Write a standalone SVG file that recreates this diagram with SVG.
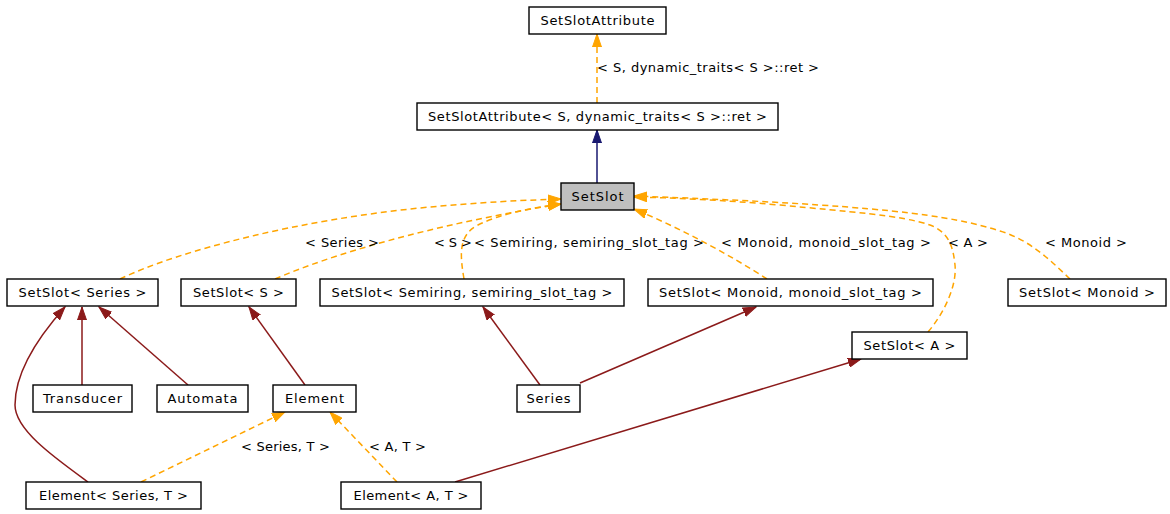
<svg xmlns="http://www.w3.org/2000/svg" width="1170" height="514" viewBox="0 0 1170 514">
<defs>
<marker id="ao" markerUnits="userSpaceOnUse" markerWidth="14" markerHeight="10" refX="13" refY="5" orient="auto"><path d="M0,0.5 L13,5 L0,9.5 z" fill="#ffa500" stroke="#ffa500" stroke-width="1"/></marker>
<marker id="ar" markerUnits="userSpaceOnUse" markerWidth="14" markerHeight="10" refX="13" refY="5" orient="auto"><path d="M0,0.5 L13,5 L0,9.5 z" fill="#8b1a1a" stroke="#8b1a1a" stroke-width="1"/></marker>
<marker id="an" markerUnits="userSpaceOnUse" markerWidth="14" markerHeight="10" refX="13" refY="5" orient="auto"><path d="M0,0.5 L13,5 L0,9.5 z" fill="#191970" stroke="#191970" stroke-width="1"/></marker>
</defs>
<style>
rect{fill:#fff;stroke:#000;stroke-width:1.4}
.cur rect{fill:#bfbfbf}
text{font-family:"DejaVu Sans","Liberation Sans",sans-serif;font-size:13px;fill:#000}
.n text{text-anchor:middle}
.o{fill:none;stroke:#ffa500;stroke-width:1.5;stroke-dasharray:6,4;marker-end:url(#ao)}
.r{fill:none;stroke:#8b1a1a;stroke-width:1.5;marker-end:url(#ar)}
.b{fill:none;stroke:#191970;stroke-width:1.5;marker-end:url(#an)}
</style>
<rect x="0" y="0" width="1170" height="514" style="fill:#fff;stroke:none"/>
<g id="connectors">
<path class="o" d="M597,103 L597,34"/>
<path class="b" d="M597,183 L597,130"/>
<path class="o" d="M120,279 C180,250 300,220 420,208 C480,202 530,200 561,199"/>
<path class="o" d="M275,279 C330,255 430,225 561,204"/>
<path class="o" d="M464,279 C460,255 458,235 478,225 C500,214 530,208 561,204"/>
<path class="o" d="M767,279 C730,255 680,228 634,209"/>
<path class="o" d="M928,332 C945,312 957,285 955,265 C953,245 948,232 930,225 C900,215 850,212 780,205 C720,200 680,198 634,197"/>
<path class="o" d="M1070,279 C1050,260 1030,240 1000,231 C950,215 880,205 634,196"/>
<path class="r" d="M82,385 L82,307"/>
<path class="r" d="M188,385 L99,307"/>
<path class="r" d="M88,482 C55,458 15,430 15,405 C15,370 40,335 65,307"/>
<path class="r" d="M305,385 L249,307"/>
<path class="r" d="M540,385 L483,307"/>
<path class="r" d="M580,383 L756,307"/>
<path class="r" d="M455,482 L861,359"/>
<path class="o" d="M141,482 L285,412"/>
<path class="o" d="M397,482 L330,412"/>
<text x="597" y="72" textLength="222">&lt; S, dynamic_traits&lt; S &gt;::ret &gt;</text>
<text x="305" y="247" textLength="74">&lt; Series &gt;</text>
<text x="434" y="247" textLength="38">&lt; S &gt;</text>
<text x="474" y="247" textLength="230">&lt; Semiring, semiring_slot_tag &gt;</text>
<text x="721" y="247" textLength="210">&lt; Monoid, monoid_slot_tag &gt;</text>
<text x="948" y="247" textLength="40">&lt; A &gt;</text>
<text x="1045" y="247" textLength="82">&lt; Monoid &gt;</text>
<text x="241" y="451" textLength="89">&lt; Series, T &gt;</text>
<text x="369" y="451" textLength="57">&lt; A, T &gt;</text>
</g>
<g id="SetSlotAttribute" class="n"><rect x="529" y="7" width="137" height="27"/><text x="597.5" y="25" textLength="114">SetSlotAttribute</text></g>
<g id="SetSlotAttribute_S" class="n"><rect x="417" y="103" width="361" height="27"/><text x="597.5" y="121" textLength="339">SetSlotAttribute&lt; S, dynamic_traits&lt; S &gt;::ret &gt;</text></g>
<g id="SetSlot" class="n cur"><rect x="561" y="183" width="73" height="27"/><text x="597.5" y="201" textLength="52">SetSlot</text></g>
<g id="SetSlot_Series" class="n"><rect x="7" y="279" width="151" height="27"/><text x="82.5" y="297" textLength="128">SetSlot&lt; Series &gt;</text></g>
<g id="SetSlot_S" class="n"><rect x="181" y="279" width="115" height="27"/><text x="238.5" y="297" textLength="91">SetSlot&lt; S &gt;</text></g>
<g id="SetSlot_Semiring" class="n"><rect x="320" y="279" width="304" height="27"/><text x="472" y="297" textLength="281">SetSlot&lt; Semiring, semiring_slot_tag &gt;</text></g>
<g id="SetSlot_MonoidTag" class="n"><rect x="648" y="279" width="285" height="27"/><text x="790.5" y="297" textLength="263">SetSlot&lt; Monoid, monoid_slot_tag &gt;</text></g>
<g id="SetSlot_Monoid" class="n"><rect x="1008" y="279" width="158" height="27"/><text x="1087" y="297" textLength="136">SetSlot&lt; Monoid &gt;</text></g>
<g id="SetSlot_A" class="n"><rect x="852" y="332" width="115" height="27"/><text x="909.5" y="350" textLength="92">SetSlot&lt; A &gt;</text></g>
<g id="Transducer" class="n"><rect x="33" y="385" width="99" height="27"/><text x="82.5" y="403" textLength="79">Transducer</text></g>
<g id="Automata" class="n"><rect x="157" y="385" width="91" height="27"/><text x="202.5" y="403" textLength="70">Automata</text></g>
<g id="Element" class="n"><rect x="273" y="385" width="83" height="27"/><text x="314.5" y="403" textLength="59">Element</text></g>
<g id="Series" class="n"><rect x="517" y="385" width="63" height="27"/><text x="548.5" y="403" textLength="44">Series</text></g>
<g id="Element_Series_T" class="n"><rect x="26" y="482" width="175" height="27"/><text x="113.5" y="500" textLength="149">Element&lt; Series, T &gt;</text></g>
<g id="Element_A_T" class="n"><rect x="341" y="482" width="140" height="27"/><text x="411" y="500" textLength="115">Element&lt; A, T &gt;</text></g>
</svg>
